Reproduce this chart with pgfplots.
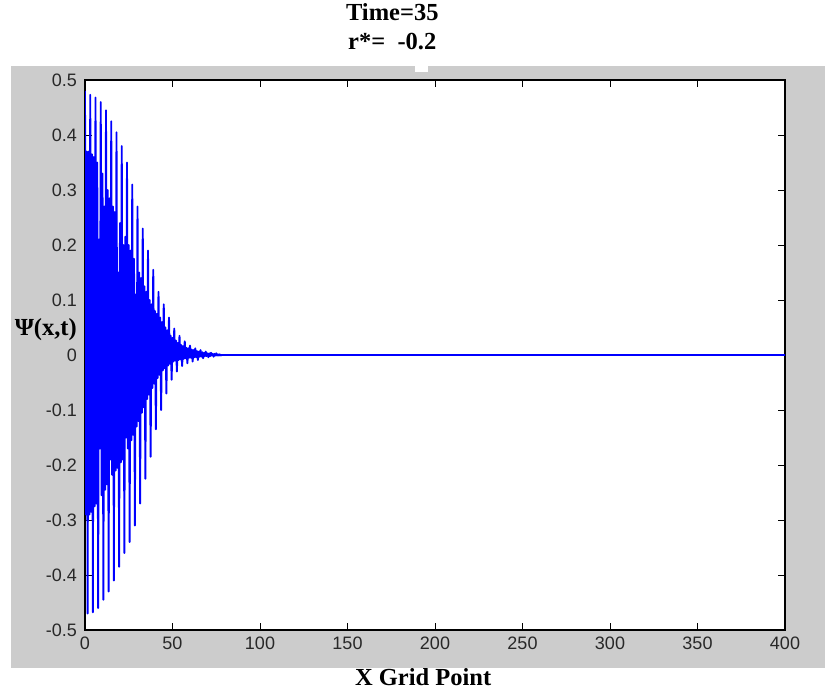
\documentclass[border=0pt]{standalone}
\usepackage{fontspec}
\setmainfont{Liberation Sans}
\newfontfamily\tnr{Liberation Serif}
\usepackage{pgfplots}
\pgfplotsset{compat=1.18}
\definecolor{figgrey}{RGB}{204,204,204}
\definecolor{mblue}{RGB}{0,0,255}
\definecolor{tickgrey}{RGB}{40,40,40}
\begin{document}
\begin{tikzpicture}[x=1pt,y=1pt]
\path[use as bounding box] (0,0) rectangle (825,693);
\fill[figgrey] (11,25) rectangle (825,627);
\fill[white] (415,621) rectangle (428,627);
\begin{axis}[
  at={(85pt,63pt)}, anchor=south west,
  width=700pt, height=550pt, scale only axis,
  xmin=0, xmax=400, ymin=-0.5, ymax=0.5,
  axis background/.style={fill=white},
  xtick={0,50,100,150,200,250,300,350,400},
  xticklabels={0,50,100,150,200,250,300,350,400},
  ytick={-0.5,-0.4,-0.3,-0.2,-0.1,0,0.1,0.2,0.3,0.4,0.5},
  yticklabels={-0.5,-0.4,-0.3,-0.2,-0.1,0,0.1,0.2,0.3,0.4,0.5},
  tick align=inside, xtick pos=both, ytick pos=both,
  major tick length=7pt,
  tick style={black, line width=0.8pt},
  axis line style={black, line width=1.2pt},
  ticklabel style={font=\fontsize{18}{20}\selectfont, text=tickgrey},
  xticklabel style={inner sep=0pt, yshift=-7pt},
  yticklabel style={inner sep=0pt, xshift=-8pt},
  title={Time=35\\ r*=\ \ -0.2},
  title style={font=\tnr\bfseries\fontsize{24.5}{29}\selectfont, align=center,
    at={(axis description cs:0.439,1)}, anchor=south, inner sep=0pt, yshift=24pt},
  xlabel={X Grid Point},
  xlabel style={font=\tnr\bfseries\fontsize{24.5}{29}\selectfont,
    at={(axis description cs:0.483,0)}, anchor=north, inner sep=0pt, yshift=-38pt},
  every axis y label/.style={at={(axis description cs:-0.0115,0.547)}, anchor=east,
    inner sep=0pt, font=\tnr\bfseries\fontsize{24.5}{29}\selectfont},
  ylabel={Ψ(x,t)},
]
\addplot[mblue, line width=1.9pt, line join=round, mark=none] coordinates {
(0,0.48)(0.5,-0.29)(1,0.37)(1.5,-0.47)(2,0.37)(2.5,-0.29)(3,0.473)(3.5,-0.285)(4,0.365)(4.5,-0.468)
(5,0.36)(5.5,-0.275)(6,0.468)(6.5,-0.27)(7,0.35)(7.5,-0.46)(8,0.21)(8.5,-0.17)(9,0.46)(9.5,-0.255)
(10,0.33)(10.5,-0.445)(11,0.27)(11.5,-0.245)(12,0.445)(12.5,-0.235)(13,0.30)(13.5,-0.43)(14,0.285)(14.5,-0.19)
(15,0.425)(15.5,-0.218)(16,0.27)(16.5,-0.41)(17,0.26)(17.5,-0.21)(18,0.405)(18.5,-0.205)(19,0.15)(19.5,-0.385)
(20,0.24)(20.5,-0.195)(21,0.38)(21.5,-0.19)(22,0.2)(22.5,-0.36)(23,0.215)(23.5,-0.15)(24,0.35)(24.5,-0.17)
(25,0.2)(25.5,-0.34)(26,0.19)(26.5,-0.155)(27,0.31)(27.5,-0.145)(28,0.175)(28.5,-0.31)(29,0.11)(29.5,-0.13)
(30,0.27)(30.5,-0.12)(31,0.15)(31.5,-0.27)(32,0.14)(32.5,-0.105)(33,0.23)(33.5,-0.095)(34,0.125)(34.5,-0.225)
(35,0.115)(35.5,-0.08)(36,0.19)(36.5,-0.072)(37,0.10)(37.5,-0.185)(38,0.092)(38.5,-0.06)(39,0.155)(39.5,-0.052)
(40,0.08)(40.5,-0.135)(41,0.075)(41.5,-0.042)(42,0.115)(42.5,-0.036)(43,0.068)(43.5,-0.10)(44,0.06)(44.5,-0.028)
(45,0.092)(45.5,-0.024)(46,0.05)(46.5,-0.07)(47,0.045)(47.5,-0.019)(48,0.068)(48.5,-0.016)(49,0.035)(49.5,-0.045)
(50,0.031)(50.5,-0.012)(51,0.048)(51.5,-0.010)(52,0.026)(52.5,-0.03)(53,0.022)(53.5,-0.009)(54,0.035)(54.5,-0.008)
(55,0.018)(55.5,-0.02)(56,0.016)(56.5,-0.007)(57,0.025)(57.5,-0.006)(58,0.013)(58.5,-0.015)(59,0.012)(59.5,-0.005)
(60,0.017)(60.5,-0.005)(61,0.010)(61.5,-0.012)(62,0.009)(62.5,-0.004)(63,0.012)(63.5,-0.004)(64,0.007)(64.5,-0.009)
(65,0.006)(65.5,-0.003)(66,0.009)(66.5,-0.003)(67,0.005)(67.5,-0.006)(68,0.004)(68.5,-0.002)(69,0.006)(69.5,-0.002)
(70,0.003)(70.5,-0.004)(71,0.003)(71.5,-0.002)(72,0.004)(72.5,-0.001)(73,0.002)(73.5,-0.003)(74,0.002)(74.5,-0.001)
(75,0.003)(75.5,-0.001)(76,0.001)(76.5,-0.001)(77,0.001)(77.5,-0.001)(78,0)(400,0)
};
\end{axis}
\end{tikzpicture}
\end{document}
